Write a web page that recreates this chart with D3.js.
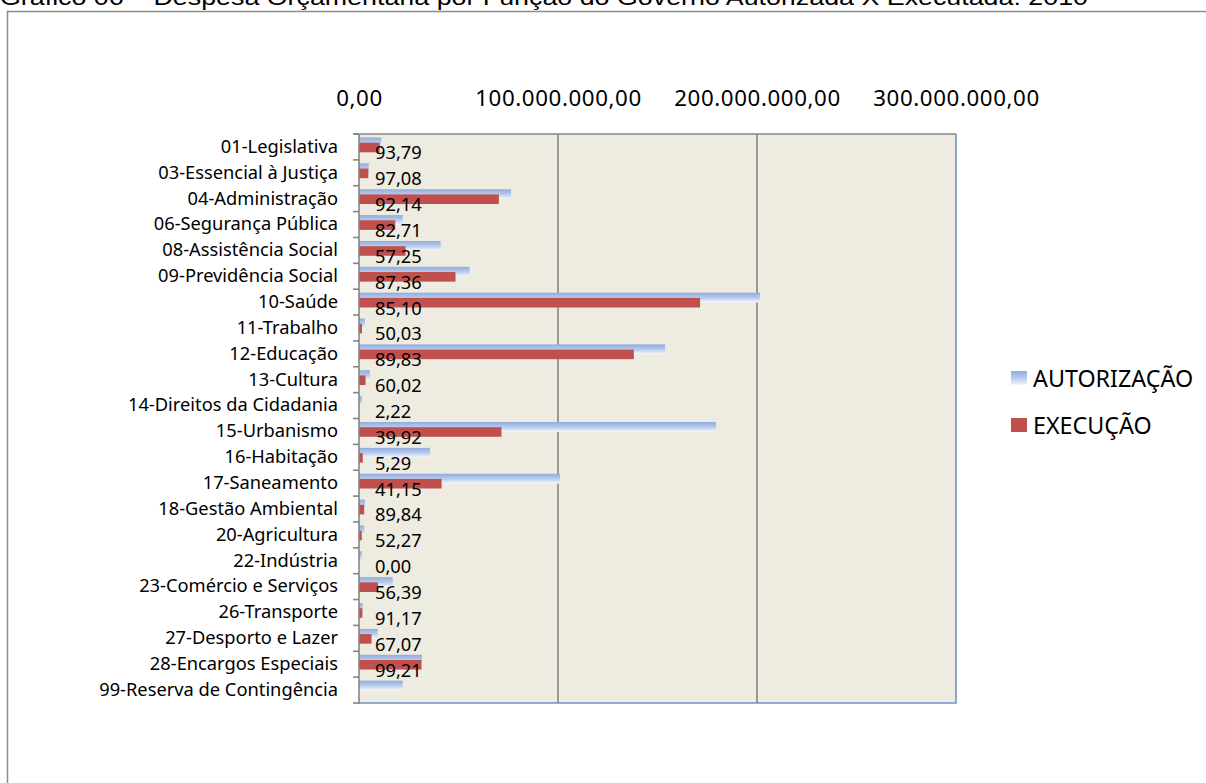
<!DOCTYPE html>
<html>
<head>
<meta charset="utf-8">
<script src="https://cdn.jsdelivr.net/npm/d3@7"></script>
<style>
  html, body { margin: 0; padding: 0; background: #ffffff; }
  svg { display: block; }
</style>
</head>
<body>
<svg id="chart" width="1206" height="783"></svg>
<script>
// ---- data ----
const categories = [
  "01-Legislativa", "03-Essencial à Justiça", "04-Administração", "06-Segurança Pública",
  "08-Assistência Social", "09-Previdência Social", "10-Saúde", "11-Trabalho",
  "12-Educação", "13-Cultura", "14-Direitos da Cidadania", "15-Urbanismo",
  "16-Habitação", "17-Saneamento", "18-Gestão Ambiental", "20-Agricultura",
  "22-Indústria", "23-Comércio e Serviços", "26-Transporte", "27-Desporto e Lazer",
  "28-Encargos Especiais", "99-Reserva de Contingência"
];
// values in R$
const autorizacao = [
  11.2e6, 4.9e6, 76.4e6, 22.0e6, 41.0e6, 55.6e6, 201.5e6, 3.0e6,
  153.8e6, 5.5e6, 1.5e6, 179.4e6, 35.7e6, 101.0e6, 3.0e6, 2.6e6,
  1.4e6, 16.9e6, 1.9e6, 9.4e6, 31.7e6, 22.0e6
];
const execucao = [
  10.4e6, 4.7e6, 70.3e6, 18.2e6, 23.4e6, 48.5e6, 171.4e6, 1.5e6,
  138.1e6, 3.3e6, 0.03e6, 71.6e6, 1.9e6, 41.5e6, 2.6e6, 1.4e6,
  0, 9.5e6, 1.7e6, 6.3e6, 31.4e6, 0
];
const pctLabels = [
  "93,79", "97,08", "92,14", "82,71", "57,25", "87,36", "85,10", "50,03",
  "89,83", "60,02", "2,22", "39,92", "5,29", "41,15", "89,84", "52,27",
  "0,00", "56,39", "91,17", "67,07", "99,21", null
];
const tickValues = [0, 100e6, 200e6, 300e6];
const tickLabels = ["0,00", "100.000.000,00", "200.000.000,00", "300.000.000,00"];
const seriesNames = ["AUTORIZAÇÃO", "EXECUÇÃO"];
const title = "Gráfico 06 – Despesa Orçamentária por Função do Governo Autorizada X Executada: 2010";

// ---- layout ----
const svg = d3.select("#chart");
const plot = { left: 359, right: 956, top: 134, bottom: 703 };
const x = d3.scaleLinear().domain([0, 300e6]).range([plot.left, plot.right]);
const y = d3.scaleBand().domain(categories).range([plot.top, plot.bottom]).padding(0);
const bw = y.bandwidth();
const labelFont = "'Noto Sans', 'Open Sans', sans-serif";

const defs = svg.append("defs");
const grad = defs.append("linearGradient").attr("id", "blueGrad")
  .attr("x1", 0).attr("y1", 0).attr("x2", 0).attr("y2", 1);
grad.append("stop").attr("offset", "0%").attr("stop-color", "#8FABDF");
grad.append("stop").attr("offset", "55%").attr("stop-color", "#BCCDEC");
grad.append("stop").attr("offset", "100%").attr("stop-color", "#F6F8FC");

// title (cut at top, as in the source)
svg.append("text")
  .attr("x", 0).attr("y", 5)
  .attr("font-family", "'Liberation Sans', Arial, sans-serif")
  .attr("font-size", 22)
  .attr("textLength", 1088).attr("lengthAdjust", "spacingAndGlyphs")
  .attr("fill", "#000")
  .text(title);

// outer frame
svg.append("rect")
  .attr("x", 7.5).attr("y", 11.5).attr("width", 1300).attr("height", 900)
  .attr("fill", "none").attr("stroke", "#8C8C8C").attr("stroke-width", 1.5);

// plot background
svg.append("rect")
  .attr("x", plot.left).attr("y", plot.top)
  .attr("width", plot.right - plot.left).attr("height", plot.bottom - plot.top)
  .attr("fill", "#EEEBE1");

// gridlines
svg.append("g").selectAll("line")
  .data(tickValues.filter(v => v > 0 && v < 300e6))
  .join("line")
  .attr("x1", d => x(d)).attr("x2", d => x(d))
  .attr("y1", plot.top).attr("y2", plot.bottom)
  .attr("stroke", "#868686").attr("stroke-width", 1.6);

// right & bottom border (blue)
svg.append("path")
  .attr("d", `M${plot.right},${plot.top}V${plot.bottom}H${plot.left}`)
  .attr("fill", "none").attr("stroke", "#6A95CF").attr("stroke-width", 1.6);

// bars
const gBars = svg.append("g");
gBars.selectAll("rect.aut")
  .data(categories)
  .join("rect").attr("class", "aut")
  .attr("x", x(0))
  .attr("y", (d) => y(d) + 3.5)
  .attr("width", (d, i) => Math.max(0, x(autorizacao[i]) - x(0)))
  .attr("height", 9.8)
  .attr("fill", "url(#blueGrad)");
gBars.selectAll("rect.exe")
  .data(categories)
  .join("rect").attr("class", "exe")
  .attr("x", x(0))
  .attr("y", (d) => y(d) + 8.7)
  .attr("width", (d, i) => Math.max(0, x(execucao[i]) - x(0)))
  .attr("height", 9.6)
  .attr("fill", "#C0504D");

// top axis line + left axis line
svg.append("line")
  .attr("x1", plot.left - 6).attr("x2", plot.right)
  .attr("y1", plot.top).attr("y2", plot.top)
  .attr("stroke", "#868686").attr("stroke-width", 1.6);
svg.append("line")
  .attr("x1", plot.left).attr("x2", plot.left)
  .attr("y1", plot.top).attr("y2", plot.bottom + 1)
  .attr("stroke", "#868686").attr("stroke-width", 1.6);

// category tick marks at band boundaries
const boundaries = categories.map(c => y(c)).concat([plot.bottom]);
svg.append("g").selectAll("line")
  .data(boundaries)
  .join("line")
  .attr("x1", plot.left - 6).attr("x2", plot.left)
  .attr("y1", d => d).attr("y2", d => d)
  .attr("stroke", "#868686").attr("stroke-width", 1.6);

// left axis labels
const yAxis = d3.axisLeft(y).tickSize(0).tickPadding(21);
const gy = svg.append("g").attr("transform", `translate(${plot.left},0)`).call(yAxis);
gy.select(".domain").remove();
gy.selectAll("text")
  .attr("font-family", labelFont).attr("font-size", 18.3).attr("fill", "#000");

// top axis labels
const xAxis = d3.axisTop(x).tickValues(tickValues).tickSize(0)
  .tickFormat((d, i) => tickLabels[i]);
const gx = svg.append("g").attr("transform", `translate(0,${plot.top - 25})`).call(xAxis);
gx.select(".domain").remove();
gx.selectAll("text")
  .attr("font-family", labelFont).attr("font-size", 22.3).attr("fill", "#000")
  .attr("letter-spacing", 0.6)
  .attr("dy", 0);

// data labels
svg.append("g").selectAll("text")
  .data(categories.filter((c, i) => pctLabels[i] !== null))
  .join("text")
  .attr("x", x(0) + 16)
  .attr("y", d => y(d) + bw - 0.5)
  .attr("font-family", labelFont).attr("font-size", 18.3).attr("fill", "#000")
  .text(d => pctLabels[categories.indexOf(d)]);

// legend
const legend = svg.append("g");
const legendItems = [
  { name: seriesNames[0], fill: "url(#blueGrad)", y: 371 },
  { name: seriesNames[1], fill: "#C0504D", y: 418 }
];
legend.selectAll("rect")
  .data(legendItems).join("rect")
  .attr("x", 1011).attr("y", d => d.y).attr("width", 16).attr("height", 14)
  .attr("fill", d => d.fill);
legend.selectAll("text")
  .data(legendItems).join("text")
  .attr("x", 1033).attr("y", d => d.y + 16)
  .attr("font-family", labelFont).attr("font-size", 23.3).attr("fill", "#000")
  .text(d => d.name);
</script>
</body>
</html>
